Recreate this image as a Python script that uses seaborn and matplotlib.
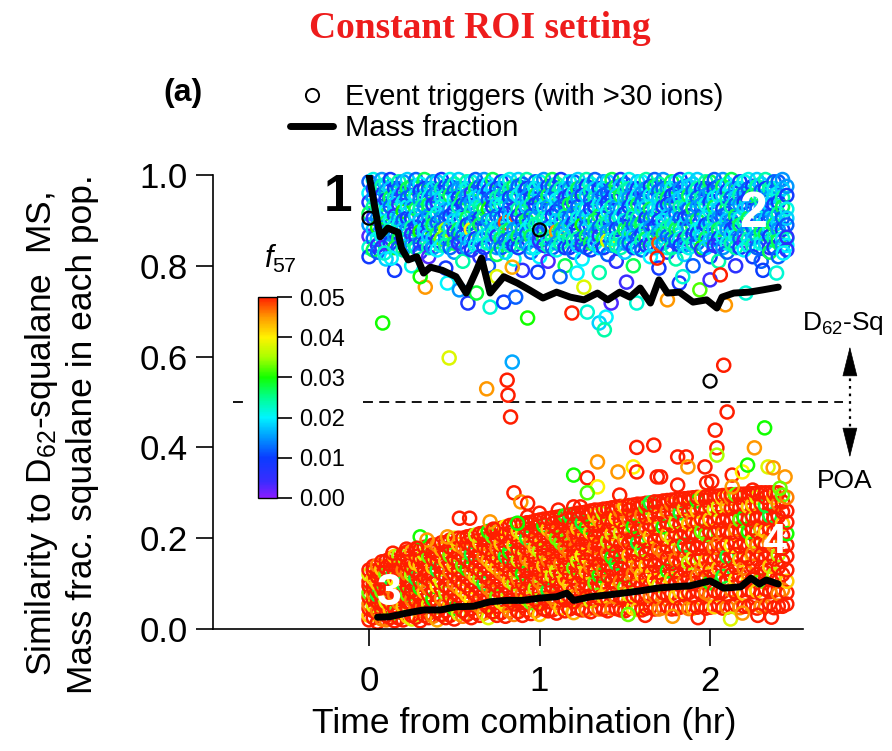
import numpy as np
import pandas as pd
import matplotlib
matplotlib.use("Agg")
import matplotlib.pyplot as plt
import seaborn as sns
from matplotlib.colors import LinearSegmentedColormap, Normalize
from matplotlib.lines import Line2D
from matplotlib.patches import Rectangle
from matplotlib.ticker import FormatStrFormatter
import matplotlib.cm as cm

sns.set_theme(style="ticks")
plt.rcParams['font.family'] = ['Liberation Sans', 'DejaVu Sans']
plt.rcParams['mathtext.fontset'] = 'custom'
plt.rcParams['mathtext.rm'] = 'Liberation Sans'
plt.rcParams['mathtext.it'] = 'Liberation Sans:italic'
plt.rcParams['mathtext.bf'] = 'Liberation Sans:bold'
for k in ['text.color', 'axes.labelcolor', 'xtick.color', 'ytick.color', 'axes.edgecolor']:
    plt.rcParams[k] = 'black'

# ---------------- data ----------------
time_bins = [0.00, 0.05, 0.10, 0.15, 0.20, 0.25, 0.30, 0.35, 0.40, 0.45,
             0.50, 0.55, 0.60, 0.65, 0.70, 0.75, 0.80, 0.85, 0.90, 0.95,
             1.00, 1.05, 1.10, 1.15, 1.20, 1.25, 1.30, 1.35, 1.40, 1.45,
             1.50, 1.55, 1.60, 1.65, 1.70, 1.75, 1.80, 1.85, 1.90, 1.95,
             2.00, 2.05, 2.10, 2.15, 2.20, 2.25, 2.30, 2.35, 2.40, 2.45]
time_bins_mid = [0.025, 0.075, 0.125, 0.175, 0.225, 0.275, 0.325, 0.375, 0.425, 0.475,
                 0.525, 0.575, 0.625, 0.675, 0.725, 0.775, 0.825, 0.875, 0.925, 0.975,
                 1.025, 1.075, 1.125, 1.175, 1.225, 1.275, 1.325, 1.375, 1.425, 1.475,
                 1.525, 1.575, 1.625, 1.675, 1.725, 1.775, 1.825, 1.875, 1.925, 1.975,
                 2.025, 2.075, 2.125, 2.175, 2.225, 2.275, 2.325, 2.375, 2.425]

# similarity of D62-squalane population particles (per time bin)
sq_similarity = [
    [0.985, 0.96, 0.94, 0.915, 0.89, 0.865, 0.84, 0.82],
    [0.975, 0.955, 0.93, 0.905, 0.885, 0.86, 0.845, 0.83],
    [0.98, 0.965, 0.945, 0.92, 0.895, 0.875, 0.85, 0.815],
    [0.97, 0.95, 0.935, 0.91, 0.89, 0.865, 0.84, 0.79],
    [0.985, 0.96, 0.94, 0.92, 0.9, 0.88, 0.855, 0.835],
    [0.975, 0.955, 0.93, 0.905, 0.885, 0.87, 0.845, 0.80],
    [0.98, 0.965, 0.945, 0.925, 0.9, 0.875, 0.85, 0.83],
    [0.97, 0.95, 0.935, 0.91, 0.89, 0.865, 0.84, 0.82],
    [0.985, 0.96, 0.94, 0.915, 0.895, 0.87, 0.855, 0.835],
    [0.975, 0.955, 0.925, 0.905, 0.88, 0.86, 0.845, 0.795],
    [0.98, 0.965, 0.945, 0.92, 0.9, 0.875, 0.85, 0.83],
    [0.97, 0.95, 0.935, 0.91, 0.885, 0.865, 0.84, 0.81],
    [0.985, 0.96, 0.94, 0.92, 0.895, 0.88, 0.855, 0.835],
    [0.975, 0.955, 0.93, 0.905, 0.89, 0.86, 0.845, 0.82],
    [0.98, 0.965, 0.945, 0.925, 0.9, 0.87, 0.85, 0.80],
    [0.97, 0.95, 0.935, 0.91, 0.885, 0.865, 0.84, 0.825],
    [0.985, 0.96, 0.94, 0.915, 0.895, 0.875, 0.855, 0.83],
    [0.975, 0.955, 0.925, 0.905, 0.88, 0.86, 0.845, 0.815],
    [0.98, 0.965, 0.945, 0.92, 0.9, 0.88, 0.85, 0.79],
    [0.97, 0.95, 0.935, 0.91, 0.89, 0.865, 0.84, 0.83],
    [0.985, 0.96, 0.94, 0.925, 0.895, 0.87, 0.855, 0.82],
    [0.975, 0.955, 0.93, 0.905, 0.885, 0.86, 0.845, 0.81],
    [0.98, 0.965, 0.945, 0.92, 0.9, 0.875, 0.85, 0.835],
    [0.97, 0.95, 0.935, 0.91, 0.885, 0.865, 0.84, 0.80],
    [0.985, 0.96, 0.94, 0.915, 0.895, 0.88, 0.855, 0.83],
    [0.975, 0.955, 0.925, 0.905, 0.89, 0.86, 0.845, 0.815],
    [0.98, 0.965, 0.945, 0.925, 0.9, 0.87, 0.85, 0.835],
    [0.97, 0.95, 0.935, 0.91, 0.885, 0.865, 0.84, 0.785],
    [0.985, 0.96, 0.94, 0.92, 0.895, 0.875, 0.855, 0.825],
    [0.975, 0.955, 0.93, 0.905, 0.88, 0.86, 0.845, 0.81],
    [0.98, 0.965, 0.945, 0.915, 0.9, 0.88, 0.85, 0.83],
    [0.97, 0.95, 0.935, 0.91, 0.89, 0.865, 0.84, 0.80],
    [0.985, 0.96, 0.94, 0.925, 0.895, 0.87, 0.855, 0.835],
    [0.975, 0.955, 0.925, 0.905, 0.885, 0.86, 0.845, 0.82],
    [0.98, 0.965, 0.945, 0.92, 0.9, 0.875, 0.85, 0.795],
    [0.97, 0.95, 0.935, 0.91, 0.885, 0.865, 0.84, 0.83],
    [0.985, 0.96, 0.94, 0.915, 0.895, 0.88, 0.855, 0.815],
    [0.975, 0.955, 0.93, 0.905, 0.89, 0.86, 0.845, 0.825],
    [0.98, 0.965, 0.945, 0.925, 0.9, 0.87, 0.85, 0.80],
    [0.97, 0.95, 0.935, 0.91, 0.885, 0.865, 0.84, 0.835],
    [0.985, 0.96, 0.94, 0.92, 0.895, 0.875, 0.855, 0.82],
    [0.975, 0.955, 0.925, 0.905, 0.88, 0.86, 0.845, 0.81],
    [0.98, 0.965, 0.945, 0.915, 0.9, 0.88, 0.85, 0.83],
    [0.97, 0.95, 0.935, 0.91, 0.89, 0.865, 0.84, 0.80],
    [0.985, 0.96, 0.94, 0.925, 0.895, 0.87, 0.855, 0.835],
    [0.975, 0.955, 0.93, 0.905, 0.885, 0.86, 0.845, 0.82],
    [0.98, 0.965, 0.945, 0.92, 0.9, 0.875, 0.85, 0.81],
    [0.97, 0.95, 0.935, 0.91, 0.885, 0.865, 0.84, 0.83],
    [0.985, 0.96, 0.94, 0.915, 0.895, 0.88, 0.855, 0.82],
    [0.975, 0.955, 0.925, 0.905, 0.89, 0.86, 0.845, 0.835],
]
sq_similarity_mid = [
    [0.99, 0.97, 0.95, 0.93, 0.905, 0.88, 0.86, 0.835], [0.99, 0.975, 0.955, 0.925, 0.91, 0.885, 0.865, 0.84],
    [0.99, 0.97, 0.95, 0.93, 0.9, 0.88, 0.87, 0.85], [0.985, 0.97, 0.955, 0.935, 0.905, 0.89, 0.86, 0.84],
    [0.99, 0.97, 0.95, 0.93, 0.905, 0.88, 0.86, 0.845], [0.99, 0.975, 0.955, 0.925, 0.91, 0.885, 0.865, 0.84],
    [0.99, 0.97, 0.95, 0.93, 0.9, 0.88, 0.87, 0.85], [0.985, 0.97, 0.955, 0.935, 0.905, 0.89, 0.86, 0.84],
    [0.99, 0.97, 0.95, 0.93, 0.905, 0.88, 0.86, 0.845], [0.99, 0.975, 0.955, 0.925, 0.91, 0.885, 0.865, 0.84],
    [0.99, 0.97, 0.95, 0.93, 0.9, 0.88, 0.87, 0.85], [0.985, 0.97, 0.955, 0.935, 0.905, 0.89, 0.86, 0.84],
    [0.99, 0.97, 0.95, 0.93, 0.905, 0.88, 0.86, 0.845], [0.99, 0.975, 0.955, 0.925, 0.91, 0.885, 0.865, 0.84],
    [0.99, 0.97, 0.95, 0.93, 0.9, 0.88, 0.87, 0.85], [0.985, 0.97, 0.955, 0.935, 0.905, 0.89, 0.86, 0.84],
    [0.99, 0.97, 0.95, 0.93, 0.905, 0.88, 0.86, 0.845], [0.99, 0.975, 0.955, 0.925, 0.91, 0.885, 0.865, 0.84],
    [0.99, 0.97, 0.95, 0.93, 0.9, 0.88, 0.87, 0.85], [0.985, 0.97, 0.955, 0.935, 0.905, 0.89, 0.86, 0.84],
    [0.99, 0.97, 0.95, 0.93, 0.905, 0.88, 0.86, 0.845], [0.99, 0.975, 0.955, 0.925, 0.91, 0.885, 0.865, 0.84],
    [0.99, 0.97, 0.95, 0.93, 0.9, 0.88, 0.87, 0.85], [0.985, 0.97, 0.955, 0.935, 0.905, 0.89, 0.86, 0.84],
    [0.99, 0.97, 0.95, 0.93, 0.905, 0.88, 0.86, 0.845], [0.99, 0.975, 0.955, 0.925, 0.91, 0.885, 0.865, 0.84],
    [0.99, 0.97, 0.95, 0.93, 0.9, 0.88, 0.87, 0.85], [0.985, 0.97, 0.955, 0.935, 0.905, 0.89, 0.86, 0.84],
    [0.99, 0.97, 0.95, 0.93, 0.905, 0.88, 0.86, 0.845], [0.99, 0.975, 0.955, 0.925, 0.91, 0.885, 0.865, 0.84],
    [0.99, 0.97, 0.95, 0.93, 0.9, 0.88, 0.87, 0.85], [0.985, 0.97, 0.955, 0.935, 0.905, 0.89, 0.86, 0.84],
    [0.99, 0.97, 0.95, 0.93, 0.905, 0.88, 0.86, 0.845], [0.99, 0.975, 0.955, 0.925, 0.91, 0.885, 0.865, 0.84],
    [0.99, 0.97, 0.95, 0.93, 0.9, 0.88, 0.87, 0.85], [0.985, 0.97, 0.955, 0.935, 0.905, 0.89, 0.86, 0.84],
    [0.99, 0.97, 0.95, 0.93, 0.905, 0.88, 0.86, 0.845], [0.99, 0.975, 0.955, 0.925, 0.91, 0.885, 0.865, 0.84],
    [0.99, 0.97, 0.95, 0.93, 0.9, 0.88, 0.87, 0.85], [0.985, 0.97, 0.955, 0.935, 0.905, 0.89, 0.86, 0.84],
    [0.99, 0.97, 0.95, 0.93, 0.905, 0.88, 0.86, 0.845], [0.99, 0.975, 0.955, 0.925, 0.91, 0.885, 0.865, 0.84],
    [0.99, 0.97, 0.95, 0.93, 0.9, 0.88, 0.87, 0.85], [0.985, 0.97, 0.955, 0.935, 0.905, 0.89, 0.86, 0.84],
    [0.99, 0.97, 0.95, 0.93, 0.905, 0.88, 0.86, 0.845], [0.99, 0.975, 0.955, 0.925, 0.91, 0.885, 0.865, 0.84],
    [0.99, 0.97, 0.95, 0.93, 0.9, 0.88, 0.87, 0.85], [0.985, 0.97, 0.955, 0.935, 0.905, 0.89, 0.86, 0.84],
    [0.99, 0.97, 0.95, 0.93, 0.905, 0.88, 0.86, 0.845],
]
# f57 of those particles, in units of 0.001
sq_f57_permil = [
    [12, 20, 6, 27, 15, 3, 22, 9], [18, 9, 25, 14, 30, 21, 6, 12],
    [22, 15, 8, 20, 27, 12, 3, 18], [9, 24, 18, 6, 21, 15, 28, 9],
    [15, 6, 21, 30, 12, 18, 9, 24], [27, 12, 18, 9, 24, 6, 15, 21],
    [20, 9, 14, 24, 18, 30, 12, 6], [12, 21, 27, 15, 9, 18, 24, 3],
    [18, 15, 6, 21, 12, 27, 9, 20], [9, 22, 18, 12, 35, 15, 24, 9],
    [24, 12, 20, 9, 18, 6, 27, 15], [15, 27, 9, 18, 21, 12, 6, 24],
    [21, 6, 15, 24, 12, 40, 18, 9], [12, 18, 24, 9, 27, 15, 21, 6],
    [20, 9, 12, 30, 15, 18, 24, 12], [9, 24, 18, 12, 21, 6, 15, 27],
    [18, 15, 21, 9, 48, 24, 12, 18], [27, 12, 6, 20, 15, 18, 9, 21],
    [12, 21, 18, 27, 9, 15, 24, 6], [15, 9, 24, 12, 20, 27, 18, 12],
    [21, 18, 9, 15, 24, 12, 6, 20], [9, 27, 15, 21, 12, 18, 24, 3],
    [24, 12, 20, 9, 18, 45, 15, 21], [18, 6, 12, 24, 15, 21, 9, 27],
    [12, 21, 27, 15, 9, 18, 24, 12], [15, 9, 18, 21, 30, 12, 6, 20],
    [21, 24, 12, 9, 18, 15, 27, 9], [9, 15, 21, 27, 12, 6, 18, 24],
    [18, 12, 9, 20, 24, 15, 38, 12], [27, 18, 15, 12, 9, 21, 24, 6],
    [12, 24, 18, 9, 21, 27, 15, 18], [15, 6, 21, 24, 12, 18, 9, 27],
    [20, 15, 12, 18, 27, 9, 24, 12], [9, 21, 27, 12, 15, 18, 6, 20],
    [24, 12, 18, 21, 9, 15, 48, 9], [15, 27, 9, 18, 24, 12, 21, 6],
    [21, 9, 15, 12, 18, 27, 12, 24], [12, 18, 24, 9, 21, 6, 15, 18],
    [18, 12, 21, 27, 15, 9, 24, 12], [9, 24, 15, 12, 20, 18, 30, 6],
    [27, 15, 9, 21, 12, 24, 18, 9], [12, 21, 18, 15, 27, 9, 6, 24],
    [20, 9, 24, 12, 18, 15, 21, 12], [15, 18, 12, 27, 9, 21, 24, 6],
    [21, 12, 9, 18, 24, 15, 3, 20], [9, 27, 15, 21, 12, 18, 24, 9],
    [18, 12, 24, 9, 15, 27, 21, 12], [24, 15, 18, 12, 21, 9, 6, 27],
    [12, 21, 9, 24, 18, 15, 27, 12], [15, 9, 21, 18, 12, 24, 20, 6],
]
sq_f57_permil_mid = [
    [21, 9, 15, 24, 6, 18, 12, 27], [15, 24, 9, 18, 27, 12, 21, 6],
    [9, 18, 27, 12, 21, 24, 15, 9], [24, 12, 18, 6, 15, 21, 27, 12],
    [18, 27, 12, 21, 9, 15, 24, 18], [12, 15, 21, 27, 18, 9, 6, 24],
    [27, 9, 24, 15, 12, 21, 18, 9], [15, 21, 12, 9, 24, 27, 18, 15],
    [9, 24, 18, 21, 15, 12, 33, 21], [21, 12, 27, 15, 9, 18, 24, 12],
    [18, 15, 9, 24, 21, 27, 12, 6], [24, 21, 15, 12, 27, 9, 18, 15],
    [12, 27, 21, 18, 15, 24, 9, 21], [15, 9, 18, 27, 24, 12, 21, 9],
    [27, 18, 12, 9, 21, 15, 24, 18], [9, 15, 24, 21, 12, 18, 27, 12],
    [21, 24, 9, 15, 18, 27, 12, 24], [18, 12, 21, 24, 9, 15, 27, 9],
    [24, 9, 15, 18, 27, 21, 12, 15], [12, 21, 27, 9, 15, 24, 18, 21],
    [15, 18, 12, 21, 24, 9, 27, 6], [27, 12, 18, 15, 9, 21, 24, 12],
    [9, 24, 21, 12, 18, 27, 15, 24], [21, 15, 9, 27, 12, 18, 24, 9],
    [18, 27, 15, 12, 21, 9, 24, 18], [24, 9, 18, 21, 15, 12, 27, 12],
    [12, 18, 24, 9, 27, 21, 15, 21], [15, 21, 12, 18, 9, 24, 27, 9],
    [27, 12, 9, 24, 18, 15, 21, 15], [9, 18, 27, 15, 21, 12, 24, 24],
    [21, 24, 15, 9, 12, 27, 18, 12], [18, 9, 21, 27, 24, 15, 12, 21],
    [24, 15, 12, 18, 9, 21, 27, 9], [12, 27, 18, 21, 15, 9, 24, 18],
    [15, 12, 24, 9, 21, 18, 27, 15], [27, 21, 9, 15, 18, 24, 12, 24],
    [9, 15, 18, 24, 12, 27, 21, 9], [21, 18, 27, 12, 9, 15, 24, 21],
    [18, 24, 12, 15, 27, 21, 9, 12], [24, 12, 15, 21, 18, 9, 27, 18],
    [12, 9, 21, 27, 24, 18, 15, 6], [15, 27, 18, 9, 12, 24, 21, 15],
    [27, 21, 12, 24, 15, 9, 18, 24], [9, 18, 24, 15, 21, 27, 12, 9],
    [21, 12, 9, 18, 27, 15, 24, 21], [18, 24, 27, 12, 9, 21, 15, 12],
    [24, 9, 15, 21, 18, 12, 27, 18], [12, 21, 18, 9, 15, 27, 24, 9],
    [15, 18, 24, 27, 12, 9, 21, 15],
]

# similarity of POA population particles (per time bin)
poa_similarity = [
    [0.02, 0.03, 0.045, 0.055, 0.07, 0.08, 0.095, 0.105, 0.12, 0.13],
    [0.015, 0.035, 0.04, 0.06, 0.075, 0.085, 0.1, 0.115, 0.125, 0.14],
    [0.02, 0.03, 0.05, 0.06, 0.08, 0.09, 0.105, 0.12, 0.135, 0.15],
    [0.018, 0.035, 0.045, 0.065, 0.075, 0.095, 0.11, 0.125, 0.14, 0.16],
    [0.02, 0.035, 0.05, 0.07, 0.08, 0.1, 0.115, 0.13, 0.15, 0.165],
    [0.022, 0.03, 0.055, 0.065, 0.085, 0.1, 0.12, 0.135, 0.15, 0.17],
    [0.018, 0.04, 0.05, 0.07, 0.09, 0.105, 0.12, 0.14, 0.155, 0.175],
    [0.025, 0.035, 0.055, 0.075, 0.09, 0.11, 0.125, 0.145, 0.16, 0.18],
    [0.02, 0.04, 0.06, 0.075, 0.095, 0.11, 0.13, 0.15, 0.165, 0.185],
    [0.025, 0.04, 0.055, 0.08, 0.095, 0.115, 0.135, 0.15, 0.17, 0.19],
    [0.022, 0.045, 0.06, 0.08, 0.1, 0.12, 0.14, 0.155, 0.175, 0.2],
    [0.028, 0.04, 0.065, 0.085, 0.1, 0.12, 0.14, 0.16, 0.18, 0.2],
    [0.025, 0.045, 0.065, 0.085, 0.105, 0.125, 0.145, 0.165, 0.185, 0.205],
    [0.03, 0.05, 0.07, 0.09, 0.11, 0.13, 0.15, 0.17, 0.19, 0.21],
    [0.025, 0.048, 0.068, 0.09, 0.112, 0.132, 0.152, 0.175, 0.195, 0.215],
    [0.03, 0.05, 0.072, 0.095, 0.115, 0.135, 0.158, 0.178, 0.2, 0.22],
    [0.028, 0.052, 0.075, 0.095, 0.118, 0.14, 0.16, 0.182, 0.205, 0.225],
    [0.032, 0.055, 0.075, 0.1, 0.12, 0.142, 0.165, 0.185, 0.208, 0.23],
    [0.03, 0.052, 0.078, 0.1, 0.122, 0.145, 0.168, 0.19, 0.21, 0.232],
    [0.034, 0.058, 0.08, 0.102, 0.125, 0.148, 0.17, 0.192, 0.215, 0.235],
    [0.032, 0.055, 0.08, 0.105, 0.128, 0.15, 0.172, 0.195, 0.218, 0.24],
    [0.04, 0.06, 0.085, 0.108, 0.13, 0.152, 0.175, 0.198, 0.22, 0.243],
    [0.035, 0.058, 0.082, 0.105, 0.128, 0.155, 0.178, 0.2, 0.224, 0.246],
    [0.04, 0.064, 0.088, 0.11, 0.135, 0.158, 0.18, 0.205, 0.228, 0.25],
    [0.036, 0.06, 0.085, 0.112, 0.135, 0.16, 0.184, 0.208, 0.23, 0.253],
    [0.042, 0.065, 0.09, 0.115, 0.14, 0.162, 0.186, 0.21, 0.234, 0.256],
    [0.038, 0.062, 0.088, 0.113, 0.138, 0.165, 0.19, 0.213, 0.238, 0.26],
    [0.044, 0.068, 0.092, 0.118, 0.142, 0.166, 0.19, 0.215, 0.24, 0.262],
    [0.04, 0.065, 0.09, 0.116, 0.142, 0.168, 0.194, 0.218, 0.242, 0.265],
    [0.045, 0.07, 0.095, 0.12, 0.145, 0.17, 0.195, 0.22, 0.245, 0.268],
    [0.04, 0.066, 0.092, 0.118, 0.145, 0.172, 0.198, 0.222, 0.248, 0.27],
    [0.046, 0.07, 0.096, 0.122, 0.148, 0.175, 0.2, 0.226, 0.25, 0.273],
    [0.042, 0.068, 0.095, 0.12, 0.148, 0.175, 0.2, 0.228, 0.252, 0.275],
    [0.048, 0.072, 0.098, 0.125, 0.15, 0.178, 0.204, 0.23, 0.255, 0.278],
    [0.044, 0.07, 0.096, 0.124, 0.152, 0.178, 0.205, 0.232, 0.258, 0.28],
    [0.05, 0.075, 0.1, 0.128, 0.155, 0.182, 0.208, 0.235, 0.26, 0.283],
    [0.045, 0.072, 0.1, 0.126, 0.154, 0.182, 0.21, 0.236, 0.262, 0.285],
    [0.05, 0.076, 0.104, 0.13, 0.158, 0.185, 0.212, 0.24, 0.265, 0.287],
    [0.046, 0.074, 0.1, 0.128, 0.156, 0.185, 0.212, 0.24, 0.266, 0.289],
    [0.052, 0.078, 0.105, 0.132, 0.16, 0.188, 0.215, 0.242, 0.268, 0.29],
    [0.048, 0.075, 0.102, 0.13, 0.158, 0.186, 0.214, 0.242, 0.27, 0.292],
    [0.052, 0.08, 0.106, 0.134, 0.162, 0.19, 0.218, 0.245, 0.27, 0.293],
    [0.048, 0.076, 0.104, 0.132, 0.16, 0.188, 0.216, 0.244, 0.272, 0.295],
    [0.054, 0.08, 0.108, 0.136, 0.164, 0.192, 0.22, 0.246, 0.272, 0.296],
    [0.05, 0.078, 0.106, 0.134, 0.162, 0.19, 0.218, 0.246, 0.274, 0.297],
    [0.055, 0.082, 0.11, 0.138, 0.166, 0.194, 0.222, 0.248, 0.274, 0.298],
    [0.05, 0.078, 0.106, 0.134, 0.164, 0.192, 0.22, 0.248, 0.276, 0.3],
    [0.056, 0.082, 0.11, 0.138, 0.166, 0.194, 0.222, 0.25, 0.276, 0.3],
    [0.05, 0.078, 0.106, 0.136, 0.164, 0.192, 0.22, 0.248, 0.276, 0.3],
    [0.055, 0.08, 0.105, 0.13, 0.16, 0.185, 0.21, 0.235, 0.26, 0.29],
]
poa_similarity_mid = [
    [0.025, 0.04, 0.052, 0.065, 0.078, 0.09, 0.102, 0.112, 0.128, 0.138],
    [0.022, 0.04, 0.055, 0.068, 0.082, 0.094, 0.108, 0.12, 0.132, 0.148],
    [0.025, 0.042, 0.056, 0.07, 0.085, 0.098, 0.112, 0.128, 0.142, 0.155],
    [0.024, 0.04, 0.058, 0.072, 0.088, 0.102, 0.118, 0.132, 0.148, 0.162],
    [0.028, 0.045, 0.06, 0.076, 0.092, 0.108, 0.122, 0.14, 0.155, 0.17],
    [0.026, 0.046, 0.062, 0.08, 0.096, 0.112, 0.128, 0.145, 0.16, 0.175],
    [0.03, 0.048, 0.064, 0.082, 0.1, 0.115, 0.132, 0.15, 0.165, 0.18],
    [0.028, 0.048, 0.066, 0.085, 0.102, 0.12, 0.136, 0.154, 0.17, 0.185],
    [0.032, 0.05, 0.068, 0.088, 0.105, 0.122, 0.14, 0.158, 0.175, 0.19],
    [0.03, 0.052, 0.07, 0.09, 0.108, 0.126, 0.145, 0.162, 0.18, 0.196],
    [0.034, 0.054, 0.074, 0.092, 0.11, 0.13, 0.15, 0.168, 0.186, 0.2],
    [0.032, 0.055, 0.075, 0.095, 0.114, 0.132, 0.152, 0.172, 0.19, 0.203],
    [0.036, 0.056, 0.076, 0.096, 0.116, 0.136, 0.156, 0.176, 0.194, 0.207],
    [0.035, 0.058, 0.078, 0.1, 0.12, 0.14, 0.16, 0.18, 0.198, 0.212],
    [0.038, 0.06, 0.08, 0.101, 0.122, 0.142, 0.163, 0.184, 0.204, 0.217],
    [0.036, 0.06, 0.082, 0.104, 0.125, 0.146, 0.167, 0.188, 0.208, 0.222],
    [0.04, 0.063, 0.085, 0.106, 0.128, 0.15, 0.17, 0.192, 0.212, 0.228],
    [0.038, 0.062, 0.086, 0.11, 0.13, 0.152, 0.174, 0.196, 0.216, 0.232],
    [0.042, 0.066, 0.088, 0.112, 0.134, 0.156, 0.178, 0.2, 0.22, 0.234],
    [0.04, 0.065, 0.09, 0.113, 0.136, 0.158, 0.18, 0.203, 0.224, 0.238],
    [0.044, 0.068, 0.092, 0.116, 0.14, 0.162, 0.184, 0.206, 0.228, 0.242],
    [0.042, 0.07, 0.094, 0.118, 0.142, 0.165, 0.188, 0.21, 0.232, 0.245],
    [0.046, 0.07, 0.096, 0.12, 0.144, 0.168, 0.19, 0.214, 0.236, 0.248],
    [0.044, 0.072, 0.098, 0.122, 0.147, 0.17, 0.194, 0.218, 0.24, 0.252],
    [0.046, 0.074, 0.1, 0.125, 0.15, 0.174, 0.198, 0.222, 0.244, 0.255],
    [0.042, 0.07, 0.1, 0.126, 0.152, 0.176, 0.2, 0.224, 0.248, 0.258],
    [0.046, 0.074, 0.102, 0.128, 0.154, 0.18, 0.204, 0.228, 0.25, 0.262],
    [0.044, 0.072, 0.104, 0.13, 0.156, 0.182, 0.206, 0.23, 0.254, 0.264],
    [0.046, 0.076, 0.106, 0.132, 0.158, 0.184, 0.21, 0.234, 0.256, 0.267],
    [0.042, 0.072, 0.104, 0.134, 0.16, 0.186, 0.212, 0.236, 0.26, 0.27],
    [0.046, 0.076, 0.108, 0.136, 0.162, 0.19, 0.215, 0.24, 0.262, 0.272],
    [0.043, 0.074, 0.106, 0.136, 0.164, 0.19, 0.216, 0.242, 0.265, 0.275],
    [0.046, 0.078, 0.11, 0.14, 0.166, 0.194, 0.22, 0.245, 0.268, 0.277],
    [0.044, 0.076, 0.108, 0.14, 0.168, 0.195, 0.222, 0.248, 0.27, 0.28],
    [0.047, 0.08, 0.112, 0.142, 0.17, 0.198, 0.225, 0.25, 0.272, 0.282],
    [0.044, 0.078, 0.11, 0.144, 0.172, 0.2, 0.228, 0.254, 0.275, 0.284],
    [0.048, 0.082, 0.114, 0.146, 0.175, 0.202, 0.23, 0.256, 0.278, 0.286],
    [0.045, 0.08, 0.112, 0.146, 0.176, 0.204, 0.232, 0.258, 0.28, 0.288],
    [0.048, 0.083, 0.116, 0.15, 0.178, 0.206, 0.234, 0.26, 0.282, 0.29],
    [0.046, 0.08, 0.114, 0.148, 0.178, 0.208, 0.236, 0.262, 0.284, 0.291],
    [0.049, 0.084, 0.118, 0.152, 0.18, 0.21, 0.238, 0.264, 0.285, 0.293],
    [0.046, 0.082, 0.116, 0.15, 0.18, 0.21, 0.238, 0.265, 0.287, 0.294],
    [0.05, 0.086, 0.12, 0.154, 0.184, 0.212, 0.24, 0.266, 0.288, 0.296],
    [0.047, 0.084, 0.118, 0.152, 0.182, 0.212, 0.24, 0.268, 0.29, 0.297],
    [0.05, 0.086, 0.122, 0.155, 0.185, 0.214, 0.242, 0.27, 0.29, 0.298],
    [0.046, 0.084, 0.12, 0.154, 0.184, 0.214, 0.244, 0.27, 0.29, 0.3],
    [0.05, 0.088, 0.124, 0.156, 0.186, 0.215, 0.244, 0.272, 0.29, 0.3],
    [0.047, 0.085, 0.12, 0.154, 0.184, 0.214, 0.244, 0.27, 0.29, 0.3],
    [0.05, 0.086, 0.12, 0.15, 0.178, 0.206, 0.232, 0.258, 0.28, 0.295],
]
poa_f57_permil = [
    [50, 42, 50, 46, 50, 33, 50, 50, 38, 50], [50, 50, 46, 50, 28, 50, 42, 50, 50, 46],
    [46, 50, 50, 38, 50, 50, 50, 33, 50, 50], [50, 33, 50, 50, 46, 50, 40, 50, 50, 42],
    [50, 50, 42, 50, 50, 28, 50, 46, 50, 50], [38, 50, 50, 46, 50, 50, 35, 50, 50, 44],
    [50, 46, 50, 50, 30, 50, 50, 42, 50, 50], [50, 50, 38, 50, 46, 50, 50, 50, 33, 50],
    [44, 50, 50, 50, 40, 50, 28, 50, 50, 46], [50, 50, 46, 35, 50, 50, 50, 42, 50, 50],
    [50, 30, 50, 50, 46, 50, 42, 50, 50, 38], [46, 50, 50, 42, 50, 50, 33, 50, 46, 50],
    [50, 50, 40, 50, 50, 46, 50, 28, 50, 50], [50, 46, 50, 50, 35, 50, 50, 50, 42, 50],
    [38, 50, 50, 46, 50, 50, 44, 50, 50, 30], [50, 50, 33, 50, 50, 42, 50, 46, 50, 50],
    [50, 42, 50, 50, 46, 50, 28, 50, 50, 40], [46, 50, 50, 35, 50, 50, 50, 42, 50, 50],
    [50, 50, 46, 50, 30, 50, 50, 50, 38, 50], [50, 33, 50, 50, 50, 44, 50, 46, 50, 50],
    [42, 50, 50, 46, 50, 50, 36, 50, 50, 50], [50, 50, 28, 50, 50, 46, 50, 50, 42, 50],
    [50, 46, 50, 50, 38, 50, 50, 33, 50, 50], [50, 50, 50, 42, 50, 50, 46, 50, 50, 30],
    [44, 50, 50, 50, 33, 50, 50, 46, 50, 50], [50, 50, 46, 50, 50, 40, 50, 50, 28, 50],
    [50, 38, 50, 50, 46, 50, 50, 42, 50, 50], [46, 50, 50, 30, 50, 50, 50, 50, 44, 50],
    [50, 50, 42, 50, 50, 46, 36, 50, 50, 50], [50, 46, 50, 50, 28, 50, 50, 50, 40, 50],
    [50, 50, 33, 50, 50, 50, 46, 50, 50, 42], [40, 50, 50, 46, 50, 50, 50, 30, 50, 50],
    [50, 50, 50, 42, 50, 35, 50, 50, 46, 50], [50, 46, 50, 50, 50, 50, 42, 50, 50, 28],
    [46, 50, 38, 50, 50, 46, 50, 50, 50, 50], [50, 50, 50, 30, 50, 50, 44, 50, 46, 50],
    [50, 42, 50, 50, 46, 50, 50, 36, 50, 50], [50, 50, 46, 50, 50, 28, 50, 50, 42, 50],
    [44, 50, 50, 50, 38, 50, 50, 46, 50, 50], [50, 50, 50, 46, 50, 50, 33, 50, 50, 42],
    [50, 46, 30, 50, 50, 50, 50, 42, 50, 50], [50, 50, 50, 42, 50, 46, 50, 50, 38, 50],
    [46, 50, 50, 50, 28, 50, 50, 50, 44, 50], [50, 50, 40, 50, 50, 50, 46, 50, 50, 33],
    [50, 42, 50, 46, 50, 50, 50, 30, 50, 50], [50, 50, 50, 50, 46, 38, 50, 50, 42, 50],
    [46, 50, 33, 50, 50, 50, 44, 50, 50, 50], [50, 50, 50, 42, 50, 46, 50, 28, 50, 50],
    [50, 46, 50, 50, 36, 50, 50, 50, 46, 50], [50, 50, 42, 50, 50, 50, 30, 50, 50, 46],
]
poa_f57_permil_mid = [
    [50, 50, 38, 50, 46, 50, 50, 42, 50, 50], [46, 50, 50, 50, 33, 50, 50, 50, 42, 50],
    [50, 42, 50, 46, 50, 50, 28, 50, 50, 50], [50, 50, 46, 50, 50, 40, 50, 50, 50, 35],
    [42, 50, 50, 33, 50, 50, 46, 50, 50, 50], [50, 46, 50, 50, 50, 28, 50, 42, 50, 50],
    [50, 50, 50, 42, 46, 50, 50, 50, 38, 50], [46, 50, 30, 50, 50, 50, 42, 50, 50, 50],
    [50, 50, 46, 50, 38, 50, 50, 50, 44, 50], [50, 42, 50, 50, 50, 46, 50, 33, 50, 50],
    [38, 50, 50, 46, 50, 50, 50, 50, 42, 50], [50, 50, 42, 50, 50, 30, 50, 46, 50, 50],
    [50, 46, 50, 50, 42, 50, 50, 50, 50, 36], [44, 50, 50, 28, 50, 50, 46, 50, 50, 50],
    [50, 50, 46, 50, 50, 42, 50, 50, 33, 50], [50, 38, 50, 50, 46, 50, 50, 42, 50, 50],
    [46, 50, 50, 42, 50, 50, 30, 50, 50, 50], [50, 50, 50, 46, 50, 38, 50, 50, 42, 50],
    [50, 42, 50, 50, 50, 46, 50, 28, 50, 50], [46, 50, 36, 50, 50, 50, 42, 50, 50, 50],
    [50, 50, 46, 50, 42, 50, 50, 50, 30, 50], [50, 46, 50, 38, 50, 50, 50, 46, 50, 50],
    [42, 50, 50, 50, 46, 50, 33, 50, 50, 50], [50, 50, 42, 50, 50, 46, 50, 50, 50, 28],
    [50, 46, 50, 50, 38, 50, 50, 42, 50, 50], [46, 50, 50, 42, 50, 50, 50, 30, 50, 50],
    [50, 50, 33, 50, 50, 46, 50, 50, 42, 50], [50, 42, 50, 46, 50, 50, 50, 50, 36, 50],
    [46, 50, 50, 50, 30, 50, 42, 50, 50, 50], [50, 50, 46, 50, 50, 50, 38, 50, 46, 50],
    [50, 38, 50, 50, 42, 50, 50, 46, 50, 50], [42, 50, 50, 46, 50, 28, 50, 50, 50, 50],
    [50, 50, 50, 42, 50, 50, 46, 50, 33, 50], [50, 46, 40, 50, 50, 50, 50, 42, 50, 50],
    [46, 50, 50, 50, 46, 50, 30, 50, 50, 50], [50, 50, 42, 50, 50, 38, 50, 50, 46, 50],
    [50, 42, 50, 50, 46, 50, 50, 28, 50, 50], [46, 50, 50, 36, 50, 50, 42, 50, 50, 50],
    [50, 50, 46, 50, 50, 50, 50, 42, 30, 50], [50, 46, 50, 42, 50, 33, 50, 50, 50, 50],
    [42, 50, 50, 50, 46, 50, 50, 38, 50, 50], [50, 50, 28, 50, 50, 46, 50, 50, 42, 50],
    [50, 46, 50, 50, 40, 50, 50, 50, 46, 50], [46, 50, 50, 42, 50, 50, 33, 50, 50, 50],
    [50, 50, 46, 50, 50, 30, 50, 42, 50, 50], [50, 42, 50, 50, 46, 50, 50, 50, 38, 50],
    [46, 50, 50, 50, 50, 42, 50, 28, 50, 50], [50, 50, 36, 50, 46, 50, 50, 50, 42, 50],
    [50, 46, 50, 50, 50, 50, 42, 50, 50, 33],
]

# scattered individual particles (time, similarity, f57 permil)
stray_time = [0.08, 0.13, 0.09, 0.33, 0.30, 0.46, 0.53, 0.58, 0.71, 0.79, 0.86, 0.63, 0.75, 0.84, 0.93,
              0.99, 1.12, 1.19, 1.22, 1.28, 1.35, 1.39, 1.38, 1.26, 1.42, 1.51, 1.57, 1.69, 1.75, 1.82,
              1.84, 1.94, 2.00, 2.06, 2.09, 2.21, 2.31, 2.39, 2.45, 2.43,
              0.47, 0.69, 0.81, 0.815, 0.83, 0.84, 2.08, 2.10, 2.03, 2.04, 2.32, 2.26,
              1.57, 1.67, 1.20, 1.34, 1.28, 1.34, 1.28, 1.46, 1.55, 1.57, 1.47, 1.81, 1.86, 1.87,
              1.97, 2.04, 2.13, 2.19, 2.22, 2.34, 2.37, 2.44, 1.81, 1.69, 1.71, 1.98, 2.01, 2.13,
              2.25, 2.41, 0.85, 0.89, 0.93, 0.93, 1.00, 0.87, 1.11, 1.20, 1.24, 0.53, 0.59, 0.71,
              0.73, 0.46, 0.30, 0.34, 0.28, 0.22, 0.14,
              1.62, 1.78, 1.93, 2.12, 2.28, 2.36, 1.52, 2.19]
stray_similarity = [0.674, 0.817, 0.828, 0.753, 0.776, 0.762, 0.747, 0.718, 0.709, 0.72, 0.731, 0.74, 0.776,
                    0.797, 0.685, 0.786, 0.776, 0.696, 0.784, 0.698, 0.674, 0.687, 0.659, 0.753, 0.718,
                    0.764, 0.718, 0.817, 0.725, 0.762, 0.776, 0.747, 0.769, 0.78, 0.714, 0.74, 0.79,
                    0.784, 0.863, 0.828,
                    0.597, 0.529, 0.548, 0.515, 0.467, 0.588, 0.581, 0.478, 0.438, 0.399, 0.443, 0.399,
                    0.40, 0.405, 0.339, 0.368, 0.333, 0.313, 0.30, 0.346, 0.357, 0.346, 0.295, 0.379,
                    0.379, 0.357, 0.357, 0.383, 0.339, 0.346, 0.361, 0.357, 0.355, 0.335, 0.317, 0.335,
                    0.335, 0.322, 0.325, 0.313, 0.306, 0.31, 0.30, 0.28, 0.277, 0.247, 0.255, 0.233,
                    0.262, 0.269, 0.269, 0.244, 0.244, 0.236, 0.22, 0.203, 0.203, 0.196, 0.178, 0.176,
                    0.167,
                    0.03, 0.028, 0.025, 0.022, 0.03, 0.026, 0.032, 0.035]
stray_f57_permil = [30, 20, 22, 45, 30, 20, 15, 8, 22, 10, 12, 28, 38, 44, 30, 10, 12, 50, 20, 22, 18, 20,
                    24, 38, 3, 4, 22, 50, 45, 8, 22, 32, 4, 50, 45, 22, 10, 22, 6, 20,
                    38, 45, 50, 50, 50, 16, 50, 50, 50, 50, 30, 45,
                    50, 50, 30, 45, 50, 40, 32, 45, 40, 50, 50, 50, 50, 45, 50, 35, 50, 40, 30, 38,
                    45, 45, 50, 50, 50, 50, 50, 45, 50, 33, 50, 45, 50, 50, 50, 30, 50, 50, 50, 50,
                    50, 45, 50, 45, 30, 45, 50, 50, 50,
                    50, 45, 50, 38, 50, 50, 33, 45]

# event triggers shown in black
trigger_time = [0.0, 1.0, 2.0]
trigger_similarity = [0.905, 0.879, 0.546]

# mass fraction of squalane in each population
mf_sq_time = [0.00, 0.065, 0.11, 0.17, 0.19, 0.23, 0.28, 0.32, 0.36, 0.43, 0.51, 0.57, 0.63, 0.66, 0.71,
              0.79, 0.87, 0.94, 1.02, 1.10, 1.18, 1.26, 1.34, 1.40, 1.47, 1.53, 1.59, 1.65, 1.70, 1.75,
              1.82, 1.90, 1.98, 2.04, 2.07, 2.14, 2.23, 2.31, 2.40]
mf_sq = [1.0, 0.864, 0.883, 0.874, 0.839, 0.813, 0.82, 0.784, 0.797, 0.79, 0.776, 0.74, 0.79, 0.817,
         0.74, 0.776, 0.762, 0.747, 0.729, 0.742, 0.731, 0.725, 0.74, 0.725, 0.742, 0.731, 0.751, 0.718,
         0.769, 0.74, 0.742, 0.72, 0.725, 0.707, 0.731, 0.74, 0.742, 0.747, 0.753]
mf_poa_time = [0.05, 0.12, 0.22, 0.32, 0.42, 0.51, 0.61, 0.71, 0.81, 0.90, 1.00, 1.10, 1.16, 1.20, 1.30,
               1.40, 1.49, 1.59, 1.69, 1.78, 1.88, 2.00, 2.08, 2.18, 2.24, 2.29, 2.33, 2.40]
mf_poa = [0.026, 0.027, 0.035, 0.042, 0.042, 0.049, 0.05, 0.06, 0.063, 0.063, 0.068, 0.071, 0.079, 0.063,
          0.071, 0.075, 0.079, 0.084, 0.09, 0.093, 0.095, 0.106, 0.09, 0.093, 0.112, 0.099, 0.108, 0.099]

x_ticks = [0, 1, 2]
y_ticks = [0.0, 0.2, 0.4, 0.6, 0.8, 1.0]
cbar_ticks = [0.00, 0.01, 0.02, 0.03, 0.04, 0.05]

# ---------------- figure ----------------
W, H = 892, 751
fig = plt.figure(figsize=(W / 100, H / 100), dpi=100)
ax = fig.add_axes([213 / W, 1 - 629 / H, 590 / W, 454 / H])

cmap = LinearSegmentedColormap.from_list("igor_rainbow", [
    (0.00, '#8a1cff'), (0.08, '#3a2cff'), (0.20, '#0a3cff'), (0.30, '#0098ff'),
    (0.40, '#00f4ff'), (0.50, '#00ff90'), (0.60, '#12ff00'), (0.70, '#a8ff00'),
    (0.80, '#fff200'), (0.90, '#ff9a00'), (1.00, '#ff1e00')])
norm = Normalize(0.0, 0.05)


def population_frame(times, sims, f57s):
    n = len(sims[0])
    return pd.DataFrame({'t': np.repeat(times, n),
                         'sim': np.concatenate(sims),
                         'f57': np.concatenate(f57s) / 1000.0})


df_sq = pd.concat([population_frame(time_bins, sq_similarity, sq_f57_permil),
                   population_frame(time_bins_mid, sq_similarity_mid, sq_f57_permil_mid)]).sort_values('t', kind='stable')
df_poa = pd.concat([population_frame(time_bins, poa_similarity, poa_f57_permil),
                    population_frame(time_bins_mid, poa_similarity_mid, poa_f57_permil_mid)]).sort_values('t', kind='stable')
df_stray = pd.DataFrame({'t': stray_time, 'sim': stray_similarity,
                         'f57': np.array(stray_f57_permil) / 1000.0})

MS = 88
LW = 1.8


def hollow(collection, lw=LW):
    fc = collection.get_facecolors()
    collection.set_edgecolors(fc)
    collection.set_facecolors('none')
    collection.set_linewidths(lw)
    collection.set_clip_on(False)


for d in (df_sq, df_poa, df_stray):
    sns.scatterplot(data=d, x='t', y='sim', hue='f57', palette=cmap, hue_norm=norm,
                    s=MS, marker='o', legend=False, ax=ax, zorder=2)
    hollow(ax.collections[-1])

sns.scatterplot(x=trigger_time, y=trigger_similarity, color='black', s=MS, marker='o',
                legend=False, ax=ax, zorder=3)
hollow(ax.collections[-1], lw=1.6)

sns.lineplot(x=mf_sq_time, y=mf_sq, color='black', lw=5, estimator=None, ax=ax, zorder=5)
sns.lineplot(x=mf_poa_time, y=mf_poa, color='black', lw=5, estimator=None, ax=ax, zorder=5)

# axes styling
ax.set_xlim(-0.915, 2.545)
ax.set_ylim(0, 1.0)
ax.set_xticks(x_ticks)
ax.set_yticks(y_ticks)
ax.yaxis.set_major_formatter(FormatStrFormatter('%.1f'))
ax.tick_params(direction='out', length=12, width=1.2, labelsize=25, colors='black')
ax.tick_params(axis='y', pad=6)
ax.tick_params(axis='x', pad=14)
sns.despine(ax=ax)
for s in ['left', 'bottom']:
    ax.spines[s].set_linewidth(1.2)
    ax.spines[s].set_color('black')

ax.set_xlabel('Time from combination (hr)', fontsize=25.5, va='center')
ax.xaxis.set_label_coords((524 - 213) / 590, (629 - 724) / 454)
ax.set_ylabel('Similarity to D$_{62}$-squalane  MS,\nMass frac. squalane in each pop.',
              fontsize=25.5, va='center', linespacing=1.25)
ax.yaxis.set_label_coords((61 - 213) / 590, (629 - 434) / 454)

# separator between populations
ax.hlines(0.5, -0.80, 2.78, colors='black', linestyles=(0, (5.5, 3.5)), lw=1.3,
          clip_on=False, zorder=1)
xa = 2.82
ax.plot([xa, xa], [0.43, 0.565], ls=(0, (1.2, 2.2)), lw=1.6, color='black', clip_on=False)
for y0, y1 in [(0.56, 0.622), (0.44, 0.378)]:
    ax.annotate('', xy=(xa, y1), xytext=(xa, y0), annotation_clip=False,
                arrowprops=dict(arrowstyle='-|>,head_length=1.0,head_width=0.25',
                                color='black', lw=0.5, mutation_scale=20,
                                shrinkA=0, shrinkB=0))
ax.text(2.78, 0.674, 'D$_{62}$-Sq', fontsize=19, ha='center', va='center', clip_on=False)
ax.text(2.79, 0.325, 'POA', fontsize=19, ha='center', va='center', clip_on=False)

# region numbers
ax.text(-0.18, 0.95, '1', fontsize=37, fontweight='bold', ha='center', va='center', zorder=8)
ax.text(2.25, 0.914, '2', fontsize=36, fontweight='bold', color='white', ha='center', va='center', zorder=8)
ax.text(0.117, 0.079, '3', fontsize=32, fontweight='bold', color='white', ha='center', va='center', zorder=8)
ax.text(2.375, 0.192, '4', fontsize=31, fontweight='bold', color='white', ha='center', va='center', zorder=8)

# white background behind colour bar
fig.add_artist(Rectangle((243 / W, 1 - 505 / H), (357 - 243) / W, (505 - 286) / H,
                         transform=fig.transFigure, facecolor='white', edgecolor='none', zorder=1))

cax = fig.add_axes([258 / W, 1 - 498 / H, 19 / W, 201 / H])
cax.set_zorder(3)
cb = fig.colorbar(cm.ScalarMappable(norm=norm, cmap=cmap), cax=cax)
cb.set_ticks(cbar_ticks)
cb.ax.yaxis.set_major_formatter(FormatStrFormatter('%.2f'))
cb.ax.tick_params(length=11, width=1.2, labelsize=17, direction='out', pad=5, colors='black')
cb.outline.set_linewidth(1.0)
cb.outline.set_edgecolor('black')
fig.text(280 / W, 1 - 259 / H, '$f_{57}$', fontsize=22, ha='center', va='center')

# legend
handles = [Line2D([], [], marker='o', ls='none', mfc='none', mec='black', ms=9.5, mew=1.4),
           Line2D([], [], color='black', lw=5)]
fig.legend(handles, ['Event triggers (with >30 ions)', 'Mass fraction'], loc='upper left',
           bbox_to_anchor=(290 / W, 1 - 83 / H), frameon=False, fontsize=21,
           handlelength=1.48, handletextpad=0.42, labelspacing=0.12, borderpad=0,
           borderaxespad=0)

# titles
fig.text(480 / W, 1 - 29 / H, 'Constant ROI setting', fontsize=27, fontweight='bold',
         family='Liberation Serif', color='#ee1c1c', ha='center', va='center')
fig.text(183 / W, 1 - 93 / H, '(a)', fontsize=23, fontweight='bold', ha='center', va='center')

fig.savefig('out.png', dpi=100)
